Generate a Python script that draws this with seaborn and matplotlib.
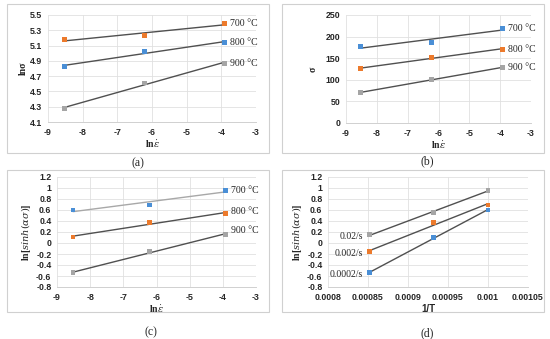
import numpy as np
import pandas as pd
import matplotlib
matplotlib.use("Agg")
import matplotlib.pyplot as plt
import seaborn as sns
from matplotlib.patches import Rectangle

sns.set_theme(style="white")
plt.rcParams['font.family'] = ['DejaVu Sans']
plt.rcParams['mathtext.fontset'] = 'dejavuserif'

# ---------------- data ----------------
ln_rate = [-8.517, -6.215, -3.912]
inv_T = [0.000852, 0.000932, 0.001]

temps = ["700 °C", "800 °C", "900 °C"]
rates = ["0.02/s", "0.002/s", "0.0002/s"]

a_700 = [5.18, 5.23, 5.39]
a_800 = [4.83, 5.02, 5.14]
a_900 = [4.28, 4.61, 4.87]

b_700 = [177, 187, 219]
b_800 = [126, 152, 171]
b_900 = [71, 100, 129]

c_700 = [0.60, 0.69, 0.96]
c_800 = [0.11, 0.37, 0.54]
c_900 = [-0.54, -0.16, 0.16]

d_002 = [0.15, 0.55, 0.96]
d_0002 = [-0.16, 0.37, 0.69]
d_00002 = [-0.54, 0.10, 0.60]

BLUE = "#4a8fd6"
ORANGE = "#ec7a2c"
GRAY = "#a5a5a5"
LINE = "#505050"
LIGHTLINE = "#a8a8a8"

W, H = 550, 339
fig = plt.figure(figsize=(W / 100, H / 100), dpi=100)

def fx(px):
    return px / W

def fy(py):
    return 1 - py / H

# panel boxes
for (x0, y0, x1, y1) in [(7, 4, 269, 153), (282, 4, 544, 153), (7, 170, 269, 312), (282, 170, 544, 312)]:
    fig.patches.append(Rectangle((fx(x0), fy(y1)), fx(x1 - x0), (y1 - y0) / H,
                                 transform=fig.transFigure, fill=False,
                                 edgecolor="#d0d0d0", linewidth=0.8))

TICKFONT = dict(fontsize=6.3, fontweight='bold', family='Liberation Sans')
SERIF = 'Liberation Serif'

def make_ax(l, t, r, b):
    ax = fig.add_axes([fx(l), fy(b), fx(r - l), (b - t) / H])
    for s in ax.spines.values():
        s.set_visible(False)
    ax.spines['bottom'].set_visible(True)
    ax.spines['bottom'].set_color("#d0d0d0")
    ax.spines['bottom'].set_linewidth(0.7)
    ax.grid(True, color="#e0e0e0", linewidth=0.6)
    ax.set_axisbelow(True)
    ax.tick_params(axis='x', length=0, pad=4.5)
    ax.tick_params(axis='y', length=0, pad=4)
    return ax

def fmt_ticks(ax, xt, yt):
    ax.set_xticks(xt)
    ax.set_yticks(yt)
    ax.set_xticklabels([f"{round(v, 6):g}" for v in xt], **TICKFONT)
    ax.set_yticklabels([f"{round(v, 6):g}" for v in yt], **TICKFONT)

def series(ax, x, y, color, lcolor=LINE):
    df = pd.DataFrame({"x": x, "y": y})
    sns.regplot(data=df, x="x", y="y", ax=ax, scatter=False, ci=None, truncate=True,
                line_kws=dict(color=lcolor, linewidth=1.0))
    sns.scatterplot(data=df, x="x", y="y", ax=ax, marker='s', s=12, color=color,
                    edgecolor='none', zorder=5)

def rlabel(ax, x, y, txt, dy=0):
    ax.annotate(txt, (x, y), xytext=(4, dy), textcoords='offset points',
                ha='left', va='center', fontsize=7, family=SERIF)

xt_rate = list(range(-9, -2))

# ---- (a)
ax = make_ax(48, 15, 256, 122)
for ys, c, t in [(a_700, ORANGE, temps[0]), (a_800, BLUE, temps[1]), (a_900, GRAY, temps[2])]:
    series(ax, ln_rate, ys, c)
    rlabel(ax, ln_rate[-1], ys[-1], t)
ax.set_xlim(-9, -3)
ax.set_ylim(4.1, 5.5)
fmt_ticks(ax, xt_rate, [4.1, 4.3, 4.5, 4.7, 4.9, 5.1, 5.3, 5.5])
ax.set_xlabel(r"ln$\dot{\varepsilon}$", fontsize=7, fontweight='bold', family=SERIF, labelpad=1)
ax.set_ylabel("lnσ", fontsize=7, fontweight='bold', family=SERIF, labelpad=2)

# ---- (b)
ax = make_ax(346, 15, 531, 123)
for ys, c, t in [(b_700, BLUE, temps[0]), (b_800, ORANGE, temps[1]), (b_900, GRAY, temps[2])]:
    series(ax, ln_rate, ys, c)
    rlabel(ax, ln_rate[-1], ys[-1], t)
ax.set_xlim(-9, -3)
ax.set_ylim(0, 250)
fmt_ticks(ax, xt_rate, [0, 50, 100, 150, 200, 250])
ax.set_xlabel(r"ln$\dot{\varepsilon}$", fontsize=7, fontweight='bold', family=SERIF, labelpad=1)
ax.set_ylabel("σ", fontsize=7, fontweight='bold', family=SERIF, labelpad=6)

ylab_sinh = r"ln[$\mathit{sinh}(\alpha\sigma)$]"
yt_sinh = [-0.8, -0.6, -0.4, -0.2, 0, 0.2, 0.4, 0.6, 0.8, 1, 1.2]

# ---- (c)
ax = make_ax(57, 177, 256, 287)
for ys, c, t, lc, dy in [(c_700, BLUE, temps[0], LIGHTLINE, 0), (c_800, ORANGE, temps[1], LINE, 1),
                         (c_900, GRAY, temps[2], LINE, 3)]:
    series(ax, ln_rate, ys, c, lc)
    rlabel(ax, ln_rate[-1], ys[-1], t, dy)
ax.set_xlim(-9, -3)
ax.set_ylim(-0.8, 1.2)
fmt_ticks(ax, xt_rate, yt_sinh)
ax.set_xlabel(r"ln$\dot{\varepsilon}$", fontsize=7, fontweight='bold', family=SERIF, labelpad=1)
ax.set_ylabel(ylab_sinh, fontsize=7, fontweight='bold', family=SERIF, labelpad=2)

# ---- (d)
ax = make_ax(328, 177, 528, 287)
for ys, c, t in [(d_002, GRAY, rates[0]), (d_0002, ORANGE, rates[1]), (d_00002, BLUE, rates[2])]:
    series(ax, inv_T, ys, c)
    ax.annotate(t, (inv_T[0], ys[0]), xytext=(-5, -1), textcoords='offset points',
                ha='right', va='center', fontsize=7, family=SERIF)
ax.set_xlim(0.0008, 0.00105)
ax.set_ylim(-0.8, 1.2)
fmt_ticks(ax, [0.0008, 0.00085, 0.0009, 0.00095, 0.001, 0.00105], yt_sinh)
ax.set_xlabel("1/T", fontsize=7, fontweight='bold', family='Liberation Sans', labelpad=1)
ax.set_ylabel(ylab_sinh, fontsize=7, fontweight='bold', family=SERIF, labelpad=2)

# panel captions
for x, y, t in [(138, 163, "(a)"), (427, 161, "(b)"), (151, 332, "(c)"), (427, 333, "(d)")]:
    fig.text(fx(x), fy(y), t, ha='center', va='center', fontsize=8.5, family=SERIF)

fig.savefig("out.png", dpi=100)
